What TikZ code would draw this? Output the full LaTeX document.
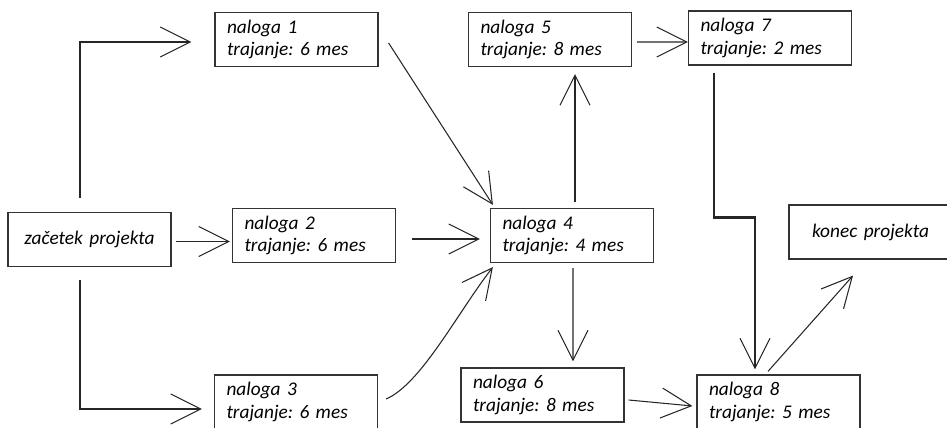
\documentclass[tikz,border=0pt]{standalone}
\usepackage{fontspec}
\setmainfont{Carlito}
\usetikzlibrary{arrows.meta,calc}
\frenchspacing

\begin{document}
\begin{tikzpicture}[x=0.02cm, y=-0.02cm,
                task/.style={draw=black!80, line width=0.7pt, minimum width=3.26cm, minimum height=1.08cm,
                             text width=2.78cm, align=left, inner sep=0pt, font=\fontsize{11}{13}\selectfont\itshape},
                milestone/.style={task, align=center},
                flow/.style={draw=black!85, line width=0.6pt, -{Straight Barb[length=0.6cm, width=0.6cm, line width=0.6pt]}},
                critical/.style={flow, line width=1.4pt}]
                \useasboundingbox (0,0) rectangle (947,428);

                \node[milestone] (start) at (89.5,239.5) {začetek projekta};
                \node[task] (n1) at (296.5,39.5) {naloga 1\\trajanje: 6 mes};
                \node[task] (n2) at (314,235.5) {naloga 2\\trajanje: 6 mes};
                \node[task] (n3) at (296,402) {naloga 3\\trajanje: 6 mes};
                \node[task] (n4) at (572,235.5) {naloga 4\\trajanje: 4 mes};
                \node[task] (n5) at (550,39.5) {naloga 5\\trajanje: 8 mes};
                \node[task] (n6) at (542.5,395) {naloga 6\\trajanje: 8 mes};
                \node[task] (n7) at (770,38) {naloga 7\\trajanje: 2 mes};
                \node[task] (n8) at (778.5,402) {naloga 8\\trajanje: 5 mes};
                \node[milestone] (end) at (870.5,232) {konec projekta};

                \draw[flow] ($(start.north)+(-9.5,-14)$) |- ($(n1.west)+(-23,2.5)$);
                \draw[flow] ($(start.east)+(4,2)$) -- ($(n2.west)+(-2,6)$);
                \draw[flow] ($(start.south)+(-9.5,13)$) |- ($(n3.west)+(-12,7)$);

                \draw[flow] ($(n1.east)+(10,3.5)$) -- ($(n4.north west)+(3,-3)$);
                \draw[flow] ($(n2.east)+(16,3.5)$) -- ($(n4.west)+(-10,3.5)$);
                \draw[flow] ($(n3.east)+(8,-3)$) .. controls +(35,-15) and +(-35,45) .. ($(n4.south west)+(3,4)$);

                \draw[flow] ($(n4.north)+(3,-6)$) -- ($(n5.south)+(25,7)$);
                \draw[flow] ($(n4.south)+(1,5)$) -- ($(n6.north)+(30.5,-6)$);
                \draw[flow] ($(n5.east)+(5,2.5)$) -- ($(n7.west)+(0,4)$);
                \draw[flow] ($(n6.east)+(4,5)$) -- ($(n8.west)+(-4,4)$);

                % thicker line from naloga 7
                \draw[critical] ($(n7.south)+(-56,7)$) -- ++(0,145) -| ($(n8.north)+(-23.5,-5)$);
                \draw[flow] ($(n8.north)+(-10.5,-3)$) -- ($(end.south)+(-17.5,16)$);
            \end{tikzpicture}
\end{document}
